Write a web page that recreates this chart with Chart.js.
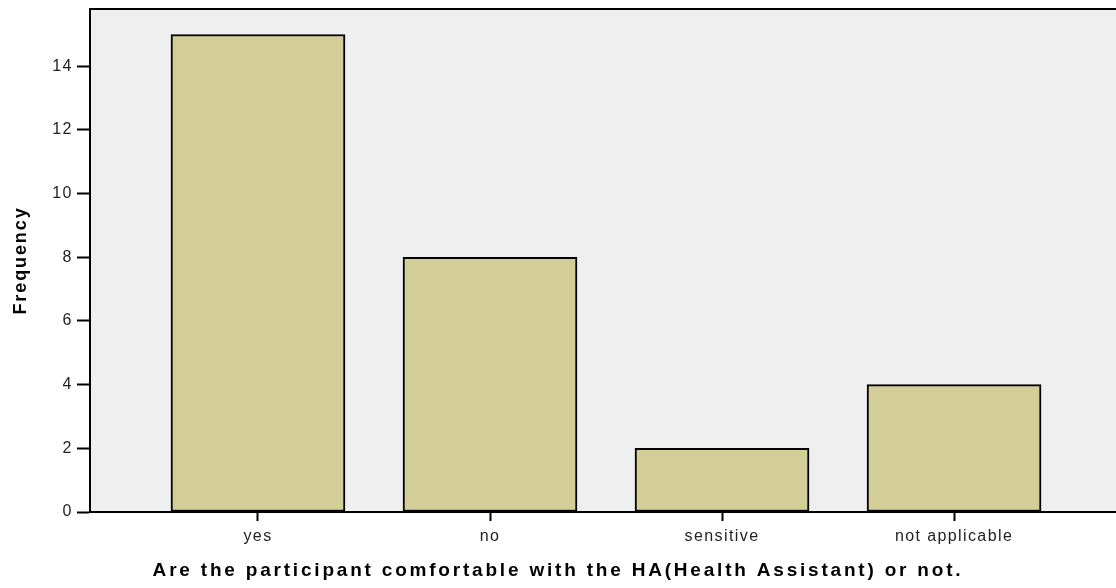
<!DOCTYPE html>
<html>
<head>
<meta charset="utf-8">
<script src="https://cdn.jsdelivr.net/npm/chart.js@4/dist/chart.umd.min.js"></script>
<style>
  body { margin: 0; background: #ffffff; overflow: hidden; }
  #wrap { width: 1116px; height: 588px; }
</style>
</head>
<body>
<div id="wrap"><canvas id="freqChart" width="1116" height="588"></canvas></div>
<script>
// datos
const categories = ['yes', 'no', 'sensitive', 'not applicable'];
const frequencies = [15, 8, 2, 4];
const yTicks = [0, 2, 4, 6, 8, 10, 12, 14];

const xTitle = 'Are the participant comfortable with the HA(Health Assistant) or not.';
const yTitle = 'Frequency';

// el texto del original va muy espaciado, se imita con letterSpacing
function spaceScale(scale, labelSp, titleSp) {
    if (scale._spaced) return;
    scale._spaced = true;
    const drawLabels = scale.drawLabels;
    const drawTitle = scale.drawTitle;
    scale.drawLabels = function(area) {
        const prev = this.ctx.letterSpacing;
        this.ctx.letterSpacing = labelSp;
        drawLabels.call(this, area);
        this.ctx.letterSpacing = prev;
    };
    scale.drawTitle = function() {
        const prev = this.ctx.letterSpacing;
        this.ctx.letterSpacing = titleSp;
        drawTitle.call(this);
        this.ctx.letterSpacing = prev;
    };
}

// fondo gris del area y linea superior
const plotFrame = {
    id: 'plotFrame',
    beforeDraw(chart) {
        const a = chart.chartArea;
        const ctx = chart.ctx;
        ctx.letterSpacing = '2.8px';
        ctx.save();
        ctx.fillStyle = '#efefef';
        ctx.fillRect(a.left, a.top, a.right - a.left, a.bottom - a.top);
        ctx.restore();
    },
    afterDraw(chart) {
        const a = chart.chartArea;
        const ctx = chart.ctx;
        ctx.save();
        ctx.strokeStyle = '#000';
        ctx.lineWidth = 2;
        ctx.beginPath();
        ctx.moveTo(a.left - 1, a.top);
        ctx.lineTo(a.right, a.top);
        ctx.stroke();
        ctx.restore();
    }
};

const ctx = document.getElementById('freqChart').getContext('2d');
const freqChart = new Chart(ctx, {
    type: 'bar',
    data: {
        datasets: [{
            label: yTitle,
            data: frequencies.map((v, i) => ({ x: i, y: v })),
            backgroundColor: '#d3cd98',
            borderColor: '#000000',
            borderWidth: 2,
            borderSkipped: false,
            barThickness: 174
        }]
    },
    options: {
        responsive: false,
        animation: false,
        layout: { padding: { top: 9, right: 0, left: 0, bottom: 0 } },
        plugins: {
            legend: { display: false },
            tooltip: { enabled: false },
            title: {
                display: true,
                position: 'bottom',
                text: xTitle,
                color: '#000',
                font: { family: 'Liberation Sans, Arial', size: 19, weight: 'bold' },
                padding: { top: 4, bottom: 6 }
            }
        },
        scales: {
            x: {
                type: 'linear',
                offset: false,
                min: -0.724,
                max: 3.698,
                afterBuildTicks: scale => {
                    scale.ticks = categories.map((c, i) => ({ value: i }));
                },
                afterFit: scale => {
                    scale.height = 43.2;
                    scale.paddingLeft = 0;
                    scale.paddingRight = 0;
                    spaceScale(scale, '1.4px', '2.8px');
                },
                ticks: {
                    callback: v => categories[v],
                    color: '#222222',
                    font: { family: 'Liberation Sans, Arial', size: 16 },
                    padding: 6,
                    maxRotation: 0,
                    autoSkip: false
                },
                grid: {
                    offset: false,
                    drawOnChartArea: false,
                    drawTicks: true,
                    tickLength: 9,
                    tickWidth: 2,
                    tickColor: '#000'
                },
                border: { color: '#000', width: 2 }
            },
            y: {
                min: 0,
                max: 15.8,
                afterBuildTicks: scale => {
                    scale.ticks = yTicks.map(v => ({ value: v }));
                },
                afterFit: scale => {
                    scale.width = 90;
                    scale.paddingTop = 0;
                    scale.paddingBottom = 0;
                    spaceScale(scale, '1.5px', '1.9px');
                },
                ticks: {
                    color: '#222222',
                    font: { family: 'Liberation Sans, Arial', size: 16 },
                    padding: 4
                },
                grid: {
                    drawOnChartArea: false,
                    drawTicks: true,
                    tickLength: 13,
                    tickWidth: 2,
                    tickColor: '#000'
                },
                border: { color: '#000', width: 2 },
                title: {
                    display: true,
                    text: yTitle,
                    color: '#000',
                    font: { family: 'Liberation Sans, Arial', size: 18, weight: 'bold' },
                    padding: { top: 10, bottom: 0 }
                }
            }
        }
    },
    plugins: [plotFrame]
});
</script>
</body>
</html>
